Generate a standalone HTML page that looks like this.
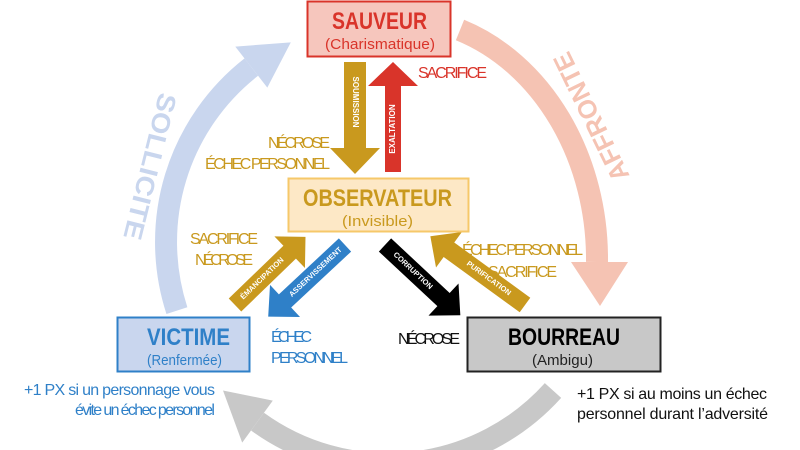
<!DOCTYPE html>
<html><head><meta charset="utf-8"><style>
html,body{margin:0;padding:0;background:#fff;}
svg{display:block;font-family:"Liberation Sans","DejaVu Sans",sans-serif;}
</style></head><body>
<svg width="800" height="450" viewBox="0 0 800 450" xmlns="http://www.w3.org/2000/svg">
<!-- big arcs -->
<path d="M460,30 A202,242 0 0 1 597,262" fill="none" stroke="#f5c3b3" stroke-width="22"/>
<polygon points="571,262 628,262 600,306" fill="#f5c3b3"/>
<path d="M553,390.5 A222,222 0 0 1 257.5,421.6" fill="none" stroke="#c8c8c8" stroke-width="22"/>
<polygon points="242.2,442.6 272.8,400.6 223,390.5" fill="#c8c8c8"/>
<path d="M176.9,310.6 A222,222 0 0 1 251.3,67.1" fill="none" stroke="#c9d6ee" stroke-width="22"/>
<polygon points="235.3,46.6 267.3,87.6 290.8,42.4" fill="#c9d6ee"/>

<text transform="translate(148,166) rotate(104)" text-anchor="middle" dominant-baseline="middle" font-size="26" font-weight="bold" fill="#c9d6ee" textLength="150" lengthAdjust="spacingAndGlyphs">SOLLICITE</text>
<text transform="translate(593,116) rotate(-116)" text-anchor="middle" dominant-baseline="middle" font-size="26" font-weight="bold" fill="#f5c3b3" textLength="140" lengthAdjust="spacingAndGlyphs">AFFRONTE</text>

<!-- vertical arrows -->
<g transform="translate(355,62) rotate(90)">
<polygon points="0,-11 86,-11 86,-25 112,0 86,25 86,11 0,11" fill="#c9991e"/>
<text x="40" y="0" text-anchor="middle" dominant-baseline="middle" font-size="8" font-weight="bold" fill="#fff">SOUMISSION</text>
</g>
<g transform="translate(393,172) rotate(-90)">
<polygon points="0,-8 86,-8 86,-25 110,0 86,25 86,8 0,8" fill="#d9342a"/>
<text x="43" y="0" text-anchor="middle" dominant-baseline="middle" font-size="8" font-weight="bold" fill="#fff">EXALTATION</text>
</g>

<!-- diagonal arrows -->
<g transform="translate(235,305) rotate(-44)">
<polygon points="0,-9 76,-9 76,-22 98,0 76,22 76,9 0,9" fill="#c9991e"/>
<text x="38" y="0" text-anchor="middle" dominant-baseline="middle" font-size="7.5" font-weight="bold" fill="#fff">ÉMANCIPATION</text>
</g>
<g transform="translate(345,245) rotate(137)">
<polygon points="0,-9 82,-9 82,-22 105,0 82,22 82,9 0,9" fill="#2f80c8"/>
<text x="40" y="0" text-anchor="middle" dominant-baseline="middle" font-size="7.5" font-weight="bold" fill="#fff" transform="rotate(180 40 0)">ASSERVISSEMENT</text>
</g>
<g transform="translate(385,245) rotate(43)">
<polygon points="0,-9 80,-9 80,-22 103,0 80,22 80,9 0,9" fill="#000"/>
<text x="38" y="0" text-anchor="middle" dominant-baseline="middle" font-size="7.5" font-weight="bold" fill="#fff">CORRUPTION</text>
</g>
<g transform="translate(525,305) rotate(216)">
<polygon points="0,-9 94,-9 94,-22 117,0 94,22 94,9 0,9" fill="#c9991e"/>
<text x="45" y="0" text-anchor="middle" dominant-baseline="middle" font-size="7.5" font-weight="bold" fill="#fff" transform="rotate(180 45 0)">PURIFICATION</text>
</g>

<!-- boxes -->
<rect x="307.5" y="1.5" width="143" height="55" fill="#f6c6bd" stroke="#d9342a" stroke-width="2"/>
<text x="332" y="29" font-size="24" font-weight="bold" fill="#d9342a" textLength="95" lengthAdjust="spacingAndGlyphs">SAUVEUR</text>
<text x="325" y="49" font-size="15" fill="#d9342a" textLength="110" lengthAdjust="spacingAndGlyphs">(Charismatique)</text>

<rect x="288.5" y="178.5" width="180" height="53" fill="#fde8c6" stroke="#f6c86a" stroke-width="2"/>
<text x="303" y="206" font-size="24" font-weight="bold" fill="#c9991e" textLength="149" lengthAdjust="spacingAndGlyphs">OBSERVATEUR</text>
<text x="342" y="226" font-size="15" fill="#c9991e" textLength="71" lengthAdjust="spacingAndGlyphs">(Invisible)</text>

<rect x="117.5" y="317.5" width="132" height="54" fill="#c9d6ee" stroke="#2f80c8" stroke-width="2"/>
<text x="147" y="345" font-size="24" font-weight="bold" fill="#2f80c8" textLength="83" lengthAdjust="spacingAndGlyphs">VICTIME</text>
<text x="147" y="365" font-size="15" fill="#2f80c8" textLength="75" lengthAdjust="spacingAndGlyphs">(Renfermée)</text>

<rect x="467.5" y="317.5" width="193" height="54" fill="#c8c8c8" stroke="#222" stroke-width="2"/>
<text x="508" y="345" font-size="24" font-weight="bold" fill="#000" textLength="112" lengthAdjust="spacingAndGlyphs">BOURREAU</text>
<text x="532" y="365" font-size="15" fill="#222" textLength="61" lengthAdjust="spacingAndGlyphs">(Ambigu)</text>

<!-- labels -->
<g font-size="16" lengthAdjust="spacingAndGlyphs">
<text x="418" y="78" fill="#d9342a" textLength="69">SACRIFICE</text>
<text x="268" y="148" fill="#c9991e" textLength="62">NÉCROSE</text>
<text x="205" y="169" fill="#c9991e" textLength="125">ÉCHEC PERSONNEL</text>
<text x="190" y="244" fill="#c9991e" textLength="68">SACRIFICE</text>
<text x="195" y="265" fill="#c9991e" textLength="58">NÉCROSE</text>
<text x="462" y="255" fill="#c9991e" textLength="121">ÉCHEC PERSONNEL</text>
<text x="488" y="277" fill="#c9991e" textLength="69">SACRIFICE</text>
<text x="271" y="342" fill="#2f80c8" textLength="41">ÉCHEC</text>
<text x="271" y="363" fill="#2f80c8" textLength="77">PERSONNEL</text>
<text x="398" y="344" fill="#111" textLength="62">NÉCROSE</text>
<text x="24" y="395" fill="#2f80c8" textLength="191">+1 PX si un personnage vous</text>
<text x="75" y="415" fill="#2f80c8" textLength="140">évite un échec personnel</text>
<text x="577" y="399" fill="#111" textLength="190">+1 PX si au moins un échec</text>
<text x="577" y="419" fill="#111" textLength="191">personnel durant l’adversité</text>
</g>
</svg>
</body></html>
